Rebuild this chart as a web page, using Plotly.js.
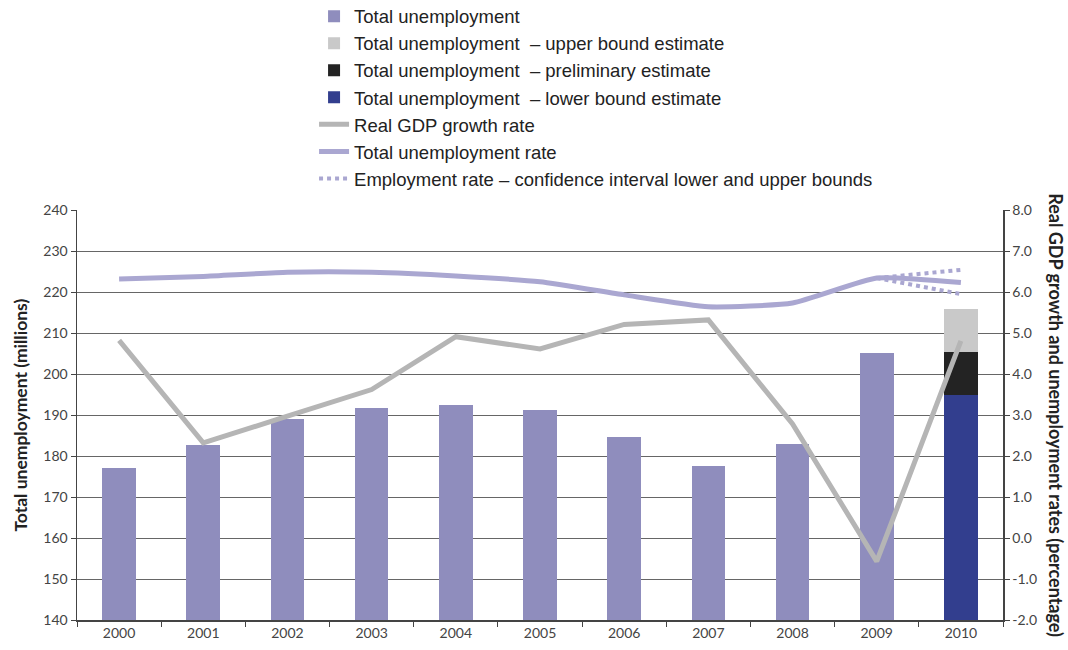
<!DOCTYPE html>
<html>
<head>
<meta charset="utf-8">
<script src="https://cdn.plot.ly/plotly-3.0.1.min.js"></script>
<style>html,body{margin:0;padding:0;background:#fff;}#chart{width:1068px;height:650px;}</style>
</head>
<body>
<div id="chart"></div>
<script>
const years = ['2000','2001','2002','2003','2004','2005','2006','2007','2008','2009','2010'];
const totalUnemployment = [177.1, 182.6, 189.1, 191.8, 192.4, 191.2, 184.6, 177.5, 183.0, 205.2, null];
const lowerBound2010 = 195.0;
const preliminary2010 = 205.4;
const upperBound2010 = 215.9;
const gdpGrowth = [4.82, 2.32, 2.97, 3.62, 4.91, 4.61, 5.21, 5.32, 2.78, -0.57, 4.81];
const unemploymentRate = [6.32, 6.38, 6.48, 6.48, 6.39, 6.25, 5.93, 5.64, 5.73, 6.34, 6.23];
const ciYears = ['2009', '2010'];
const ciUpper = [6.34, 6.54];
const ciLower = [6.34, 5.95];
const leftTicks = [140, 150, 160, 170, 180, 190, 200, 210, 220, 230, 240];
const rightTickVals = [-2, -1, 0, 1, 2, 3, 4, 5, 6, 7, 8];
const rightTickText = ['-2.0', '-1.0', '0.0', '1.0', '2.0', '3.0', '4.0', '5.0', '6.0', '7.0', '8.0'];

const only2010 = v => years.map(y => y === '2010' ? v : null);

const legendFont = {family: 'Liberation Sans Narrow, Liberation Sans, Arial', size: 18.5, color: '#222'};

const traces = [
  {type: 'bar', name: 'Total unemployment', x: years, y: totalUnemployment,
   marker: {color: '#8f8dbd'}, legendrank: 1, width: 0.4},
  {type: 'bar', name: 'Total unemployment  – lower bound estimate', x: years, y: only2010(lowerBound2010),
   marker: {color: '#323e8e'}, legendrank: 4, width: 0.4},
  {type: 'bar', name: 'Total unemployment  – preliminary estimate', x: years, y: only2010(preliminary2010 - lowerBound2010),
   marker: {color: '#232323'}, legendrank: 3, width: 0.4},
  {type: 'bar', name: 'Total unemployment  – upper bound estimate', x: years, y: only2010(upperBound2010 - preliminary2010),
   marker: {color: '#c9c9c9'}, legendrank: 2, width: 0.4},
  {type: 'scatter', mode: 'lines', name: 'Real GDP growth rate', x: years, y: gdpGrowth, yaxis: 'y2',
   line: {color: '#b5b5b5', width: 5}, legendrank: 5},
  {type: 'scatter', mode: 'lines', name: 'Total unemployment rate', x: years, y: unemploymentRate, yaxis: 'y2',
   line: {color: '#aaa7d1', width: 5, shape: 'spline', smoothing: 0.5}, legendrank: 6},
  {type: 'scatter', mode: 'lines', name: 'Employment rate – confidence interval lower and upper bounds', x: ciYears, y: ciUpper, yaxis: 'y2',
   line: {color: '#aaa7d1', width: 4, dash: 'dot'}, legendrank: 7},
  {type: 'scatter', mode: 'lines', name: 'ci lower', x: ciYears, y: ciLower, yaxis: 'y2', showlegend: false,
   line: {color: '#aaa7d1', width: 4, dash: 'dot'}}
];

const layout = {
  width: 1068, height: 650,
  margin: {l: 77, r: 65, t: 210, b: 30, autoexpand: false},
  paper_bgcolor: '#fff', plot_bgcolor: '#fff',
  barmode: 'stack',
  font: {family: 'Lato, Liberation Sans, Arial', size: 14, color: '#333'},
  showlegend: true,
  legend: {x: 0.256, y: 1.518, xanchor: 'left', yanchor: 'top', font: legendFont,
           bgcolor: 'rgba(0,0,0,0)', traceorder: 'normal', itemwidth: 30, tracegroupgap: 0},
  xaxis: {type: 'category', categoryorder: 'array', categoryarray: years,
          showline: true, linecolor: '#444', linewidth: 1.5, mirror: false,
          ticks: 'outside', tickson: 'boundaries', ticklen: 5, tickcolor: '#444',
          showgrid: false, tickfont: {size: 14, color: '#444'}},
  yaxis: {range: [140, 240], tickvals: leftTicks, showline: true, linecolor: '#444', linewidth: 1.5,
          ticks: 'outside', ticklen: 5, tickcolor: '#444', showgrid: true, gridcolor: '#666', gridwidth: 1,
          zeroline: false, tickfont: {size: 14, color: '#444'}},
  yaxis2: {range: [-2, 8], overlaying: 'y', side: 'right', tickvals: rightTickVals, ticktext: rightTickText,
           showline: true, linecolor: '#444', linewidth: 1.5, ticks: 'outside', ticklen: 5, tickcolor: '#444',
           showgrid: false, zeroline: false, tickfont: {size: 14, color: '#444'}},
  annotations: [
    {text: '<b>Total unemployment (millions)</b>', xref: 'paper', yref: 'paper', x: -0.062, y: 0.5,
     xanchor: 'center', yanchor: 'middle', textangle: -90, showarrow: false,
     font: {family: 'Lato, Liberation Sans, Arial', size: 17.5, color: '#222'}},
    {text: '<b>Real GDP growth and unemployment rates (percentage)</b>', xref: 'paper', yref: 'paper', x: 1.057, y: 0.5,
     xanchor: 'center', yanchor: 'middle', textangle: 90, showarrow: false,
     font: {family: 'Lato, Liberation Sans, Arial', size: 18, color: '#222'}}
  ]
};

Plotly.newPlot('chart', traces, layout, {displayModeBar: false, staticPlot: true});
</script>
</body>
</html>
